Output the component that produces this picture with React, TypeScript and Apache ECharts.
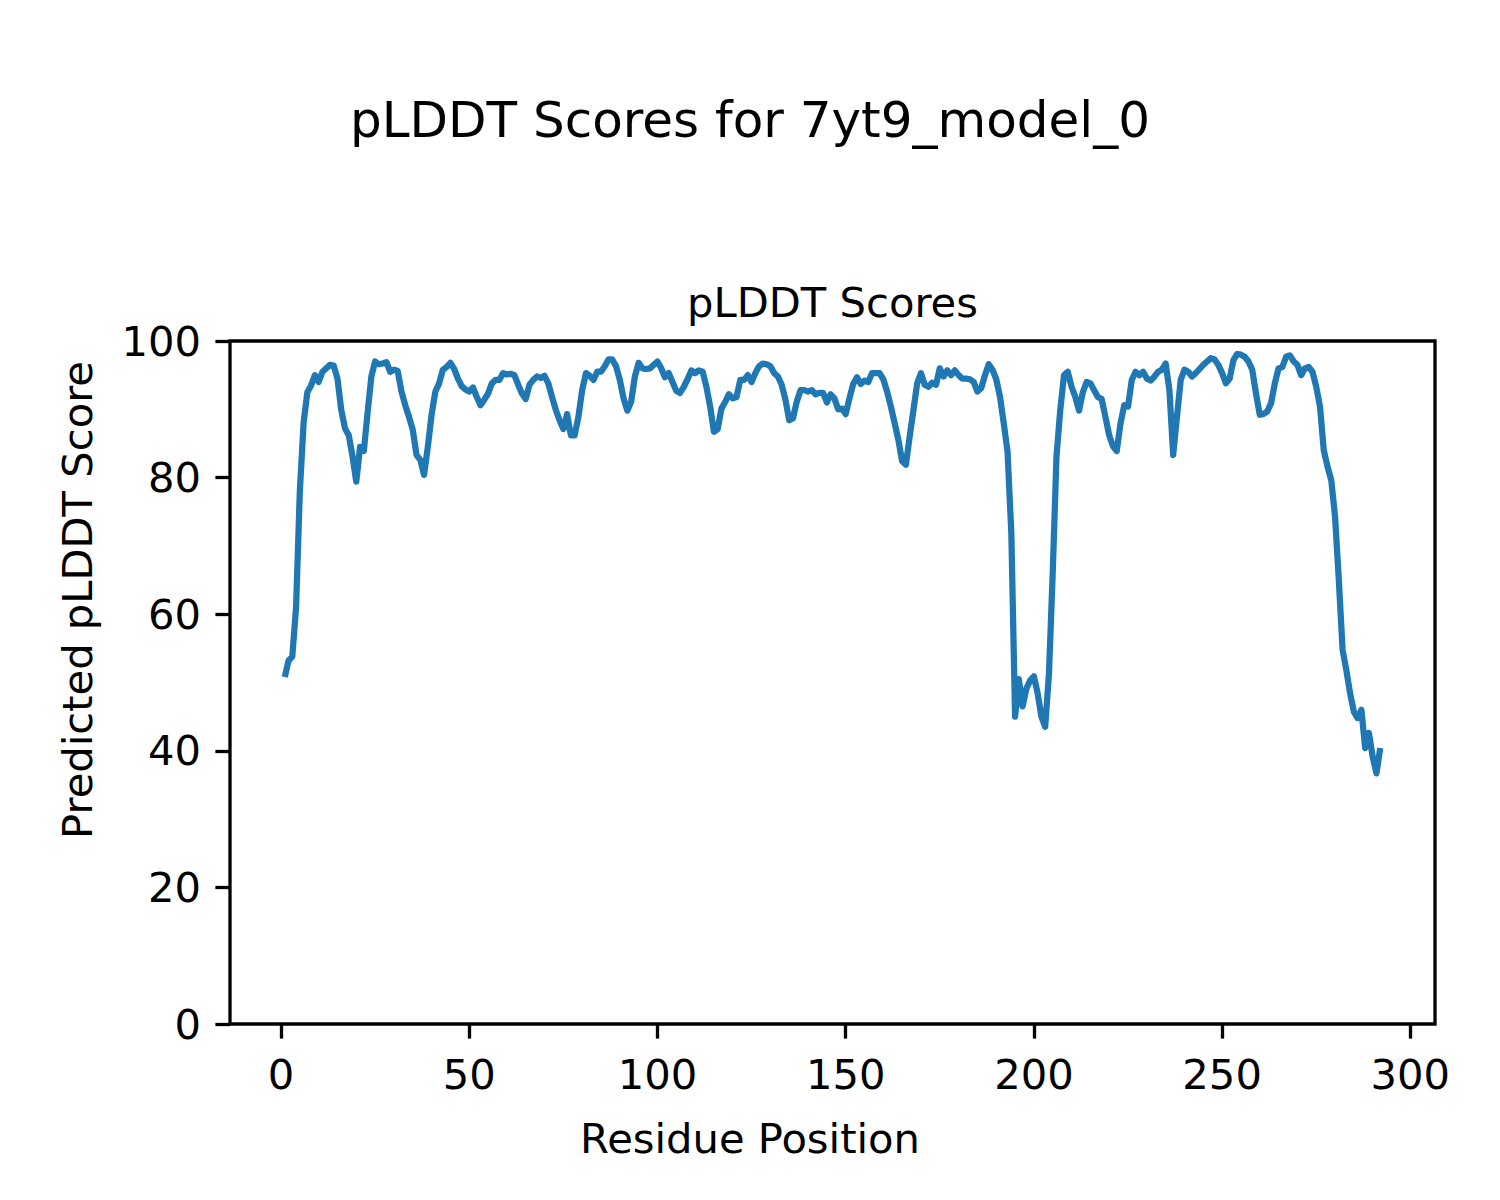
import React, { useEffect, useRef } from "react";
import * as echarts from "echarts";

const chartTitle = "pLDDT Scores for 7yt9_model_0";
const axesTitle = "pLDDT Scores";
const xAxisName = "Residue Position";
const yAxisName = "Predicted pLDDT Score";

const firstResidue = 1;
const xTickValues = [0, 50, 100, 150, 200, 250, 300];
const yTickMin = 0;
const yTickMax = 100;
const yTickStep = 20;

const plddtScores = [
  50.8, 53.2, 53.8, 61.0, 78.0, 88.0, 92.5, 93.5, 95.0, 94.0,
  95.5, 96.0, 96.5, 96.4, 94.5, 89.9, 87.2, 86.2, 83.1, 79.4,
  84.5, 83.9, 89.5, 94.8, 97.0, 96.6, 96.7, 96.9, 95.5, 95.8,
  95.6, 92.6, 90.6, 88.9, 87.0, 83.3, 82.6, 80.4, 84.5, 89.2,
  92.6, 93.8, 95.8, 96.2, 96.8, 95.9, 94.5, 93.4, 92.9, 92.6,
  93.2, 91.8, 90.6, 91.4, 92.3, 93.8, 94.3, 94.3, 95.3, 95.1,
  95.2, 95.0, 93.6, 92.3, 91.5, 93.6, 94.3, 94.8, 94.6, 94.9,
  93.8, 91.8, 89.9, 88.4, 87.1, 89.3, 86.2, 86.2, 88.9, 92.8,
  95.3, 94.9, 94.3, 95.5, 95.5, 96.3, 97.3, 97.3, 96.3, 94.3,
  91.6, 89.8, 91.1, 94.8, 96.8, 96.0, 95.9, 96.0, 96.5, 97.0,
  96.0, 94.7, 95.3, 94.0, 92.7, 92.4, 93.3, 94.4, 95.7, 95.3,
  95.7, 95.5, 93.3, 90.4, 86.7, 87.1, 90.1, 91.1, 92.2, 91.6,
  91.8, 94.3, 94.3, 95.0, 94.0, 95.3, 96.3, 96.7, 96.6, 96.3,
  95.3, 94.8, 93.6, 91.4, 88.4, 88.7, 91.1, 92.8, 92.8, 92.6,
  92.8, 92.2, 92.4, 92.4, 91.0, 92.2, 91.6, 90.0, 90.1, 89.3,
  91.6, 93.7, 94.7, 93.7, 94.2, 94.0, 95.3, 95.3, 95.3, 94.4,
  92.6, 90.4, 88.0, 85.5, 82.4, 81.9, 86.0, 89.9, 93.8, 95.3,
  93.6, 93.3, 93.9, 93.6, 96.0, 94.8, 95.7, 95.0, 95.7, 95.0,
  94.5, 94.5, 94.4, 94.0, 92.6, 93.1, 95.0, 96.6, 95.8, 94.4,
  91.8, 87.9, 83.8, 72.0, 45.0, 50.5, 46.5, 49.1, 50.3, 50.9,
  48.4, 45.0, 43.5, 51.3, 66.0, 83.1, 89.9, 95.0, 95.5, 93.3,
  91.8, 89.8, 92.5, 94.0, 93.8, 92.8, 91.8, 91.5, 88.9, 86.2,
  84.6, 83.9, 87.9, 90.6, 90.4, 94.3, 95.5, 95.0, 95.5, 94.5,
  94.2, 94.8, 95.5, 95.8, 96.7, 92.8, 83.3, 88.9, 94.3, 95.8,
  95.5, 94.8, 95.3, 95.9, 96.5, 97.0, 97.5, 97.3, 96.5, 95.3,
  93.8, 94.5, 97.2, 98.1, 98.0, 97.7, 97.0, 95.8, 92.3, 89.2,
  89.3, 89.7, 90.9, 93.8, 96.0, 96.2, 97.7, 97.9, 97.0, 96.5,
  95.0, 96.0, 96.2, 95.5, 93.3, 90.4, 84.0, 81.6, 79.6, 74.3,
  65.0, 54.8, 51.8, 48.4, 45.7, 44.8, 46.0, 40.4, 42.6, 39.1,
  36.7, 40.4,
];

const FONT = "'DejaVu Sans', 'Liberation Sans', sans-serif";
const TICK_FS = 41.67;

export default function App() {
  const ref = useRef<HTMLDivElement>(null);

  useEffect(() => {
    if (!ref.current) return;
    const chart = echarts.init(ref.current, null, { renderer: "svg" });

    const n = plddtScores.length;
    const lastResidue = firstResidue + n - 1;
    const span = lastResidue - firstResidue;
    const pad = span * 0.05;
    const seriesData = plddtScores.map((v, i) => [firstResidue + i, v]);

    const textStyleBase = (text: string, size: number) => ({
      text,
      font: `${size}px ${FONT}`,
      fontFamily: FONT,
      fontSize: size,
      fill: "#000",
      textAlign: "center",
      textVerticalAlign: "middle",
      align: "center",
      verticalAlign: "middle",
    });

    chart.setOption({
      animation: false,
      backgroundColor: "#fff",
      grid: {
        left: 230,
        top: 341,
        width: 1205,
        height: 683,
        show: true,
        borderColor: "#000",
        borderWidth: 3.3,
        backgroundColor: "transparent",
        containLabel: false,
      },
      xAxis: {
        type: "value",
        min: firstResidue - pad,
        max: lastResidue + pad,
        splitLine: { show: false },
        axisLine: { show: false, onZero: false },
        axisTick: {
          show: true,
          inside: false,
          length: 14.6,
          lineStyle: { color: "#000", width: 3.3 },
          customValues: xTickValues,
        },
        axisLabel: {
          show: true,
          margin: 29,
          color: "#000",
          fontFamily: FONT,
          fontSize: TICK_FS,
          customValues: xTickValues,
          formatter: (v: number) => String(Math.round(v)),
        },
      },
      yAxis: {
        type: "value",
        min: yTickMin,
        max: yTickMax,
        interval: yTickStep,
        splitLine: { show: false },
        axisLine: { show: false, onZero: false },
        axisTick: {
          show: true,
          inside: false,
          length: 14.6,
          lineStyle: { color: "#000", width: 3.3 },
        },
        axisLabel: {
          show: true,
          margin: 29,
          color: "#000",
          fontFamily: FONT,
          fontSize: TICK_FS,
        },
      },
      series: [
        {
          type: "line",
          data: seriesData,
          showSymbol: false,
          symbol: "none",
          lineStyle: { color: "#1f77b4", width: 6.25, cap: "butt", join: "round" },
          z: 3,
        },
      ],
      graphic: [
        {
          type: "text",
          x: 750,
          y: 120,
          style: textStyleBase(chartTitle, 50),
        },
        {
          type: "text",
          x: 832.5,
          y: 302,
          style: textStyleBase(axesTitle, TICK_FS),
        },
        {
          type: "text",
          x: 750,
          y: 1138,
          style: textStyleBase(xAxisName, TICK_FS),
        },
        {
          type: "text",
          x: 77,
          y: 600,
          rotation: Math.PI / 2,
          style: textStyleBase(yAxisName, TICK_FS),
        },
      ],
    });

    return () => chart.dispose();
  }, []);

  return (
    <div
      ref={ref}
      style={{ position: "fixed", left: 0, top: 0, width: 1500, height: 1200, background: "#fff" }}
    />
  );
}
